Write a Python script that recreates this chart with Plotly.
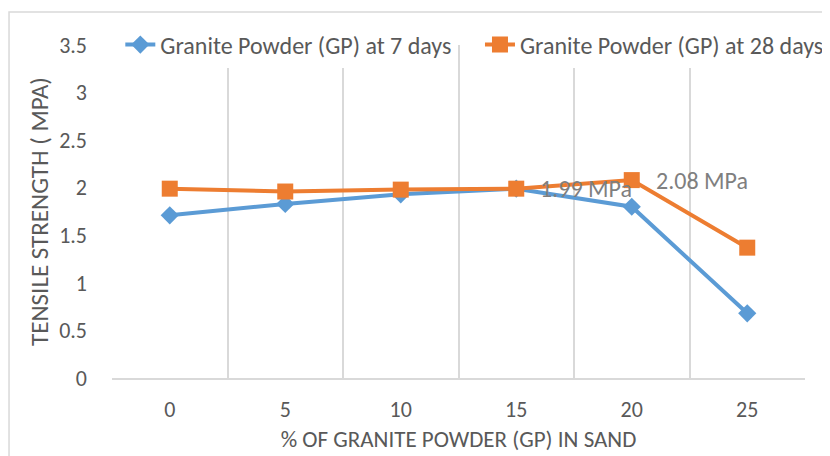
import plotly.graph_objects as go

gp_percent = ["0", "5", "10", "15", "20", "25"]
strength_7d = [1.71, 1.83, 1.93, 1.99, 1.80, 0.68]
strength_28d = [1.99, 1.96, 1.98, 1.99, 2.08, 1.37]
label_28d = ["", "", "", "1.99 MPa", "2.08 MPa", ""]

FONT = "Carlito, Lato, 'Open Sans', sans-serif"
GRAY = "#595959"

fig = go.Figure()

fig.add_trace(go.Scatter(
    x=gp_percent, y=strength_7d, mode="lines+markers",
    name="Granite Powder (GP) at 7 days", legend="legend",
    line=dict(color="#5b9bd5", width=4),
    marker=dict(symbol="diamond", size=14, color="#5b9bd5"),
))
fig.add_trace(go.Scatter(
    x=gp_percent, y=strength_28d, mode="lines+markers",
    name="Granite Powder (GP) at 28 days", legend="legend2",
    line=dict(color="#ed7d31", width=4),
    marker=dict(symbol="square", size=16, color="#ed7d31"),
))

# data labels (x given as category index)
for i, (yv, t) in enumerate(zip(strength_28d, label_28d)):
    if t:
        fig.add_annotation(x=i, y=yv, text=t, showarrow=False,
                           xanchor="left", xshift=22,
                           font=dict(family=FONT, size=24, color="#7f7f7f"))

# chart border
fig.add_shape(type="rect", xref="paper", yref="paper",
              x0=-0.1486, x1=1.1, y0=-0.26, y1=1.099,
              line=dict(color="#d9d9d9", width=1.5))

leg_common = dict(orientation="h", y=1.0, xanchor="left", yanchor="middle",
                  bgcolor="white", font=dict(family=FONT, size=24, color=GRAY),
                  borderwidth=0)

# page body adds an 8px offset; right edge of the figure falls outside the window
fig.update_layout(
    width=845, height=448,
    margin=dict(l=104, r=48, t=37, b=78),
    showlegend=True,
    paper_bgcolor="white", plot_bgcolor="white",
    font=dict(family=FONT, size=22, color=GRAY),
    legend=dict(x=0.012, **leg_common),
    legend2=dict(x=0.531, **leg_common),
    xaxis=dict(type="category", range=[-0.5, 5.5], tickson="boundaries",
               showgrid=True, automargin=False,
               gridcolor="#d9d9d9", gridwidth=1.5, ticks="", showline=True,
               linecolor="#d9d9d9", linewidth=1.5,
               ticklabelstandoff=11, tickfont=dict(size=22),
               title=dict(text="% OF GRANITE POWDER (GP) IN SAND", standoff=9,
                          font=dict(size=23, color=GRAY))),
    yaxis=dict(range=[0, 3.5], dtick=0.5, showgrid=False, zeroline=False,
               showline=False, ticks="", ticklabelstandoff=24, automargin=False,
               tickfont=dict(size=22),
               title=dict(text="TENSILE STRENGTH ( MPA)", standoff=3,
                          font=dict(size=25, color=GRAY))),
)

fig.write_html("out.html")
